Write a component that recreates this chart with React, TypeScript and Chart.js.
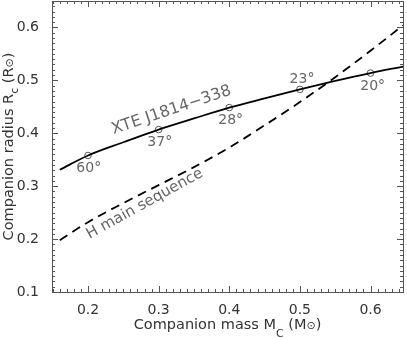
import React, { useEffect, useRef } from 'react';
import { Chart, registerables } from 'chart.js';
Chart.register(...registerables);

// XTE J1814-338 companion radius curve (mass in Msun, radius in Rsun)
const massXTE = [0.16, 0.2, 0.25, 0.3, 0.35, 0.4, 0.45, 0.5, 0.55, 0.6, 0.646];
const radiusXTE = [0.331, 0.358, 0.383, 0.407, 0.428, 0.4485, 0.466, 0.483, 0.499, 0.5138, 0.526];
// Hydrogen main sequence
const massMS = [0.16, 0.2, 0.25, 0.3, 0.35, 0.4, 0.45, 0.5, 0.55, 0.6, 0.646];
const radiusMS = [0.198, 0.232, 0.268, 0.302, 0.336, 0.373, 0.415, 0.459, 0.506, 0.556, 0.604];
// inclination markers
const markMass = [0.2, 0.3, 0.4, 0.5, 0.6];
const markRadius = [0.358, 0.407, 0.4485, 0.483, 0.5138];
const markAngles = ['60°', '37°', '28°', '23°', '20°'];
const angleLabelX = [0.201, 0.3016, 0.402, 0.503, 0.603];
const angleLabelY = [0.333, 0.383, 0.4245, 0.502, 0.489];
// curve labels
const curveLabels = ['XTE J1814−338', 'H main sequence'];
const curveLabelX = [0.32, 0.283];
const curveLabelY = [0.436, 0.26];
const curveLabelAngle = [-18.5, -29];
// axes
const xMin = 0.149;
const xMax = 0.646;
const yMin = 0.1;
const yMax = 0.65;

const FONT = '"DejaVu Sans", sans-serif';

type Seg = { t: string; s: number; dy: number };

function drawRich(ctx: CanvasRenderingContext2D, segs: Seg[], cx: number, cy: number, rot: number, color: string) {
  ctx.save();
  ctx.translate(cx, cy);
  ctx.rotate(rot);
  ctx.fillStyle = color;
  ctx.textBaseline = 'alphabetic';
  ctx.textAlign = 'left';
  let total = 0;
  for (const sg of segs) {
    ctx.font = `${sg.s}px ${FONT}`;
    total += ctx.measureText(sg.t).width;
  }
  let x = -total / 2;
  for (const sg of segs) {
    ctx.font = `${sg.s}px ${FONT}`;
    ctx.fillText(sg.t, x, sg.dy);
    x += ctx.measureText(sg.t).width;
  }
  ctx.restore();
}

const decorPlugin = {
  id: 'decor',
  afterDatasetsDraw(chart: any) {
    const ctx: CanvasRenderingContext2D = chart.ctx;
    const xs = chart.scales.x;
    const ys = chart.scales.y;
    const a = chart.chartArea;
    ctx.save();
    // frame
    ctx.strokeStyle = '#555';
    ctx.lineWidth = 1;
    ctx.strokeRect(Math.round(a.left) + 0.5, Math.round(a.top) + 0.5, Math.round(a.right - a.left), Math.round(a.bottom - a.top));
    // inward ticks on all four sides
    ctx.beginPath();
    for (let i = 10; i <= 70; i++) {
      const v = i / 100;
      if (v < xMin || v > xMax) continue;
      const px = Math.round(xs.getPixelForValue(v)) + 0.5;
      const len = i % 10 === 0 ? 6 : 3;
      ctx.moveTo(px, a.bottom);
      ctx.lineTo(px, a.bottom - len);
      ctx.moveTo(px, a.top);
      ctx.lineTo(px, a.top + len);
    }
    for (let i = 10; i <= 70; i++) {
      const v = i / 100;
      if (v < yMin || v > yMax) continue;
      const py = Math.round(ys.getPixelForValue(v)) + 0.5;
      const len = i % 10 === 0 ? 6 : 3;
      ctx.moveTo(a.left, py);
      ctx.lineTo(a.left + len, py);
      ctx.moveTo(a.right, py);
      ctx.lineTo(a.right - len, py);
    }
    ctx.stroke();

    // angle labels
    ctx.fillStyle = '#666';
    ctx.font = `14px ${FONT}`;
    ctx.textAlign = 'center';
    ctx.textBaseline = 'middle';
    markAngles.forEach((t, i) => {
      ctx.fillText(t, xs.getPixelForValue(angleLabelX[i]), ys.getPixelForValue(angleLabelY[i]));
    });
    // curve labels
    curveLabels.forEach((t, i) => {
      ctx.save();
      ctx.translate(xs.getPixelForValue(curveLabelX[i]), ys.getPixelForValue(curveLabelY[i]));
      ctx.rotate((curveLabelAngle[i] * Math.PI) / 180);
      ctx.font = `${i === 0 ? 16 : 15}px ${FONT}`;
      ctx.textAlign = 'center';
      ctx.textBaseline = 'alphabetic';
      ctx.fillStyle = '#666';
      ctx.fillText(t, 0, 0);
      ctx.restore();
    });
    ctx.restore();

    // axis titles
    const cxPlot = (a.left + a.right) / 2;
    const cyPlot = (a.top + a.bottom) / 2;
    drawRich(
      ctx,
      [
        { t: 'Companion mass M', s: 14.5, dy: 0 },
        { t: 'C', s: 11, dy: 8 },
        { t: ' (M', s: 14.5, dy: 0 },
        { t: '⊙', s: 11, dy: 0 },
        { t: ')', s: 14.5, dy: 0 },
      ],
      cxPlot,
      328.5,
      0,
      '#333'
    );
    drawRich(
      ctx,
      [
        { t: 'Companion radius R', s: 14.5, dy: 0 },
        { t: 'c', s: 11, dy: 5 },
        { t: ' (R', s: 14.5, dy: 0 },
        { t: '⊙', s: 11, dy: 0 },
        { t: ')', s: 14.5, dy: 0 },
      ],
      13,
      cyPlot,
      -Math.PI / 2,
      '#333'
    );
  },
};

export default function App() {
  const ref = useRef<HTMLCanvasElement>(null);
  useEffect(() => {
    document.body.style.margin = '0';
    const canvas = ref.current!;
    const chart = new Chart(canvas, {
      type: 'scatter',
      data: {
        datasets: [
          {
            data: massXTE.map((m, i) => ({ x: m, y: radiusXTE[i] })),
            showLine: true,
            borderColor: '#000',
            borderWidth: 1.8,
            pointRadius: 0,
            cubicInterpolationMode: 'monotone',
          },
          {
            data: massMS.map((m, i) => ({ x: m, y: radiusMS[i] })),
            showLine: true,
            borderColor: '#000',
            borderWidth: 1.8,
            borderDash: [9, 6],
            pointRadius: 0,
            cubicInterpolationMode: 'monotone',
          },
          {
            data: markMass.map((m, i) => ({ x: m, y: markRadius[i] })),
            showLine: false,
            pointStyle: 'circle',
            pointRadius: 3.3,
            borderWidth: 1,
            borderColor: '#555',
            backgroundColor: 'rgba(0,0,0,0)',
          },
        ],
      } as any,
      options: {
        responsive: false,
        animation: false,
        devicePixelRatio: 1,
        layout: { autoPadding: false, padding: { left: 0, top: 1, right: 4, bottom: 0 } },
        plugins: { legend: { display: false }, tooltip: { enabled: false } },
        scales: {
          x: {
            type: 'linear',
            position: 'bottom',
            min: xMin,
            max: xMax,
            grid: { display: false },
            border: { display: false },
            ticks: {
              stepSize: 0.1,
              includeBounds: false,
              autoSkip: false,
              maxRotation: 0,
              padding: 2,
              color: '#333',
              font: { family: FONT, size: 14 },
              callback: (v: any) => Number(v).toFixed(1),
            },
            afterFit: (s: any) => {
              s.height = 47;
              s.paddingLeft = 0;
              s.paddingRight = 0;
              s.paddingTop = 0;
              s.paddingBottom = 0;
            },
          },
          y: {
            type: 'linear',
            min: yMin,
            max: yMax,
            grid: { display: false },
            border: { display: false },
            ticks: {
              stepSize: 0.1,
              includeBounds: false,
              autoSkip: false,
              padding: 5,
              color: '#333',
              font: { family: FONT, size: 14 },
              callback: (v: any) => Number(v).toFixed(1),
            },
            afterFit: (s: any) => {
              s.width = 52;
              s.paddingLeft = 0;
              s.paddingRight = 0;
              s.paddingTop = 0;
              s.paddingBottom = 0;
            },
          },
        },
      } as any,
      plugins: [decorPlugin],
    });
    return () => chart.destroy();
  }, []);
  return <canvas ref={ref} width={407} height={339} style={{ display: 'block' }} />;
}
